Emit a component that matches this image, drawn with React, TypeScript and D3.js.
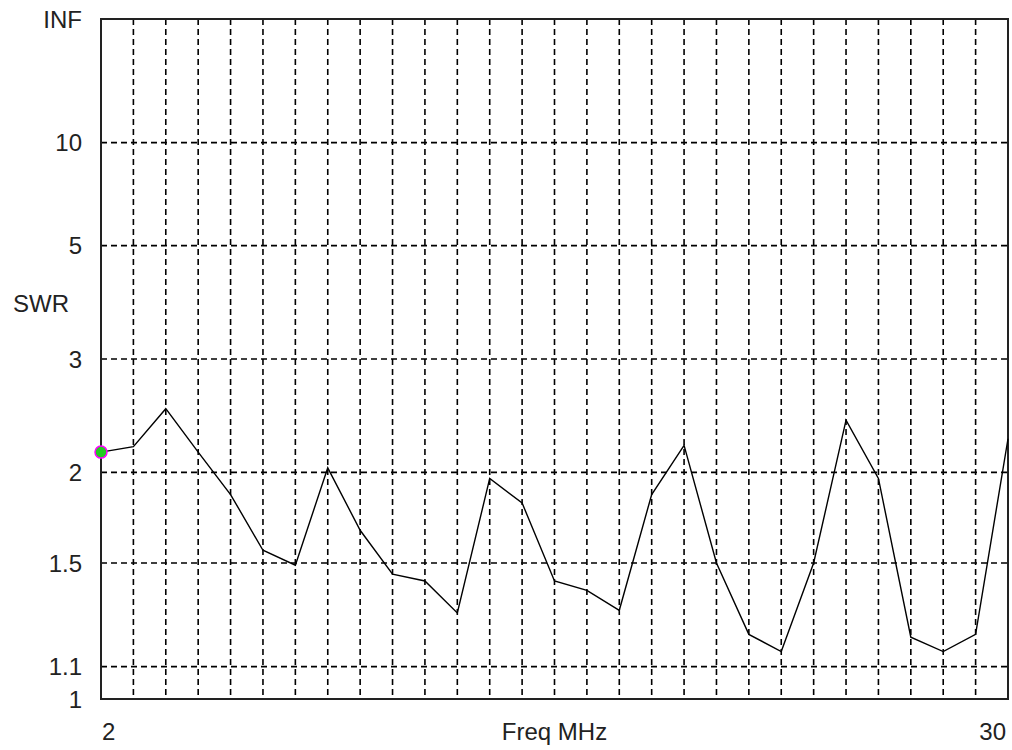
import React, { useEffect, useRef } from "react";
import * as d3 from "d3";

// frequency points (MHz) and SWR read at each one
const freqs = [2, 3, 4, 5, 6, 7, 8, 9, 10, 11, 12, 13, 14, 15, 16, 17, 18, 19, 20, 21, 22, 23, 24, 25, 26, 27, 28, 29, 30];
const swr = [
  2.14, 2.18, 2.49, 2.14, 1.86, 1.56, 1.49, 2.03, 1.66, 1.45, 1.42, 1.29, 1.96, 1.81, 1.42,
  1.38, 1.3, 1.86, 2.19, 1.5, 1.21, 1.15, 1.5, 2.39, 1.96, 1.2, 1.15, 1.21, 2.24
];

const swrTicks = [1, 1.1, 1.5, 2, 3, 5, 10, Infinity];
const swrTickLabels = ["1", "1.1", "1.5", "2", "3", "5", "10", "INF"];
const freqLabels = ["2", "30"];
const markerFreq = 2;

const W = 1012;
const H = 750;
const margin = { top: 19, right: 4, bottom: 51, left: 101 };
const FONT = "'Liberation Sans', Arial, sans-serif";

// SWR axis is linear in reflection coefficient
const rho = (s: number) => (s === Infinity ? 1 : (s - 1) / (s + 1));

export default function App() {
  const ref = useRef<SVGSVGElement>(null);

  useEffect(() => {
    const svg = d3.select(ref.current);
    svg.selectAll("*").remove();

    const x0 = margin.left;
    const x1 = W - margin.right;
    const y0 = H - margin.bottom;
    const y1 = margin.top;

    const x = d3.scaleLinear().domain([freqs[0], freqs[freqs.length - 1]]).range([x0, x1]);
    const y = d3.scaleLinear().domain([0, 1]).range([y0, y1]);
    const ys = (s: number) => y(rho(s));

    svg.append("rect").attr("width", W).attr("height", H).attr("fill", "#fff");

    // vertical grid
    svg
      .append("g")
      .selectAll("line")
      .data(freqs.slice(1, -1))
      .join("line")
      .attr("x1", d => x(d))
      .attr("x2", d => x(d))
      .attr("y1", y1)
      .attr("y2", y0)
      .attr("stroke", "#000")
      .attr("stroke-width", 1.6)
      .attr("stroke-dasharray", "6,4");

    // horizontal grid
    svg
      .append("g")
      .selectAll("line")
      .data(swrTicks.slice(1, -1))
      .join("line")
      .attr("x1", x0)
      .attr("x2", x1)
      .attr("y1", d => ys(d))
      .attr("y2", d => ys(d))
      .attr("stroke", "#000")
      .attr("stroke-width", 1.6)
      .attr("stroke-dasharray", "6,4");

    // frame
    svg
      .append("rect")
      .attr("x", x0)
      .attr("y", y1)
      .attr("width", x1 - x0)
      .attr("height", y0 - y1)
      .attr("fill", "none")
      .attr("stroke", "#222")
      .attr("stroke-width", 2);

    // y labels
    svg
      .append("g")
      .selectAll("text")
      .data(swrTicks)
      .join("text")
      .attr("x", 82)
      .attr("y", d => ys(d))
      .attr("dy", "0.36em")
      .attr("text-anchor", "end")
      .attr("font-family", FONT)
      .attr("font-size", 24)
      .attr("fill", "#222")
      .text((d, i) => swrTickLabels[i]);

    svg
      .append("text")
      .attr("x", 13)
      .attr("y", 303)
      .attr("dy", "0.36em")
      .attr("font-family", FONT)
      .attr("font-size", 24)
      .attr("fill", "#222")
      .text("SWR");

    // x labels
    const xl = svg.append("g").attr("font-family", FONT).attr("font-size", 24).attr("fill", "#222");
    xl.append("text")
      .attr("x", x(freqs[0]) + 1)
      .attr("y", 731)
      .attr("dy", "0.36em")
      .text(freqLabels[0]);
    xl.append("text")
      .attr("x", x(freqs[freqs.length - 1]) - 2)
      .attr("y", 731)
      .attr("dy", "0.36em")
      .attr("text-anchor", "end")
      .text(freqLabels[1]);
    xl.append("text")
      .attr("x", (x0 + x1) / 2)
      .attr("y", 731)
      .attr("dy", "0.36em")
      .attr("text-anchor", "middle")
      .text("Freq MHz");

    // swr curve
    const line = d3
      .line<number>()
      .x((d, i) => x(freqs[i]))
      .y(d => ys(d));
    svg
      .append("path")
      .datum(swr)
      .attr("d", line)
      .attr("fill", "none")
      .attr("stroke", "#000")
      .attr("stroke-width", 1.4);

    // marker
    const mi = freqs.indexOf(markerFreq);
    svg
      .append("circle")
      .attr("cx", x(markerFreq))
      .attr("cy", ys(swr[mi]))
      .attr("r", 6)
      .attr("fill", "#22cc22")
      .attr("stroke", "#ff00ff")
      .attr("stroke-width", 1.5);
  }, []);

  return (
    <div style={{ position: "absolute", left: 0, top: 0 }}>
      <svg ref={ref} width={W} height={H} style={{ display: "block" }} />
    </div>
  );
}
